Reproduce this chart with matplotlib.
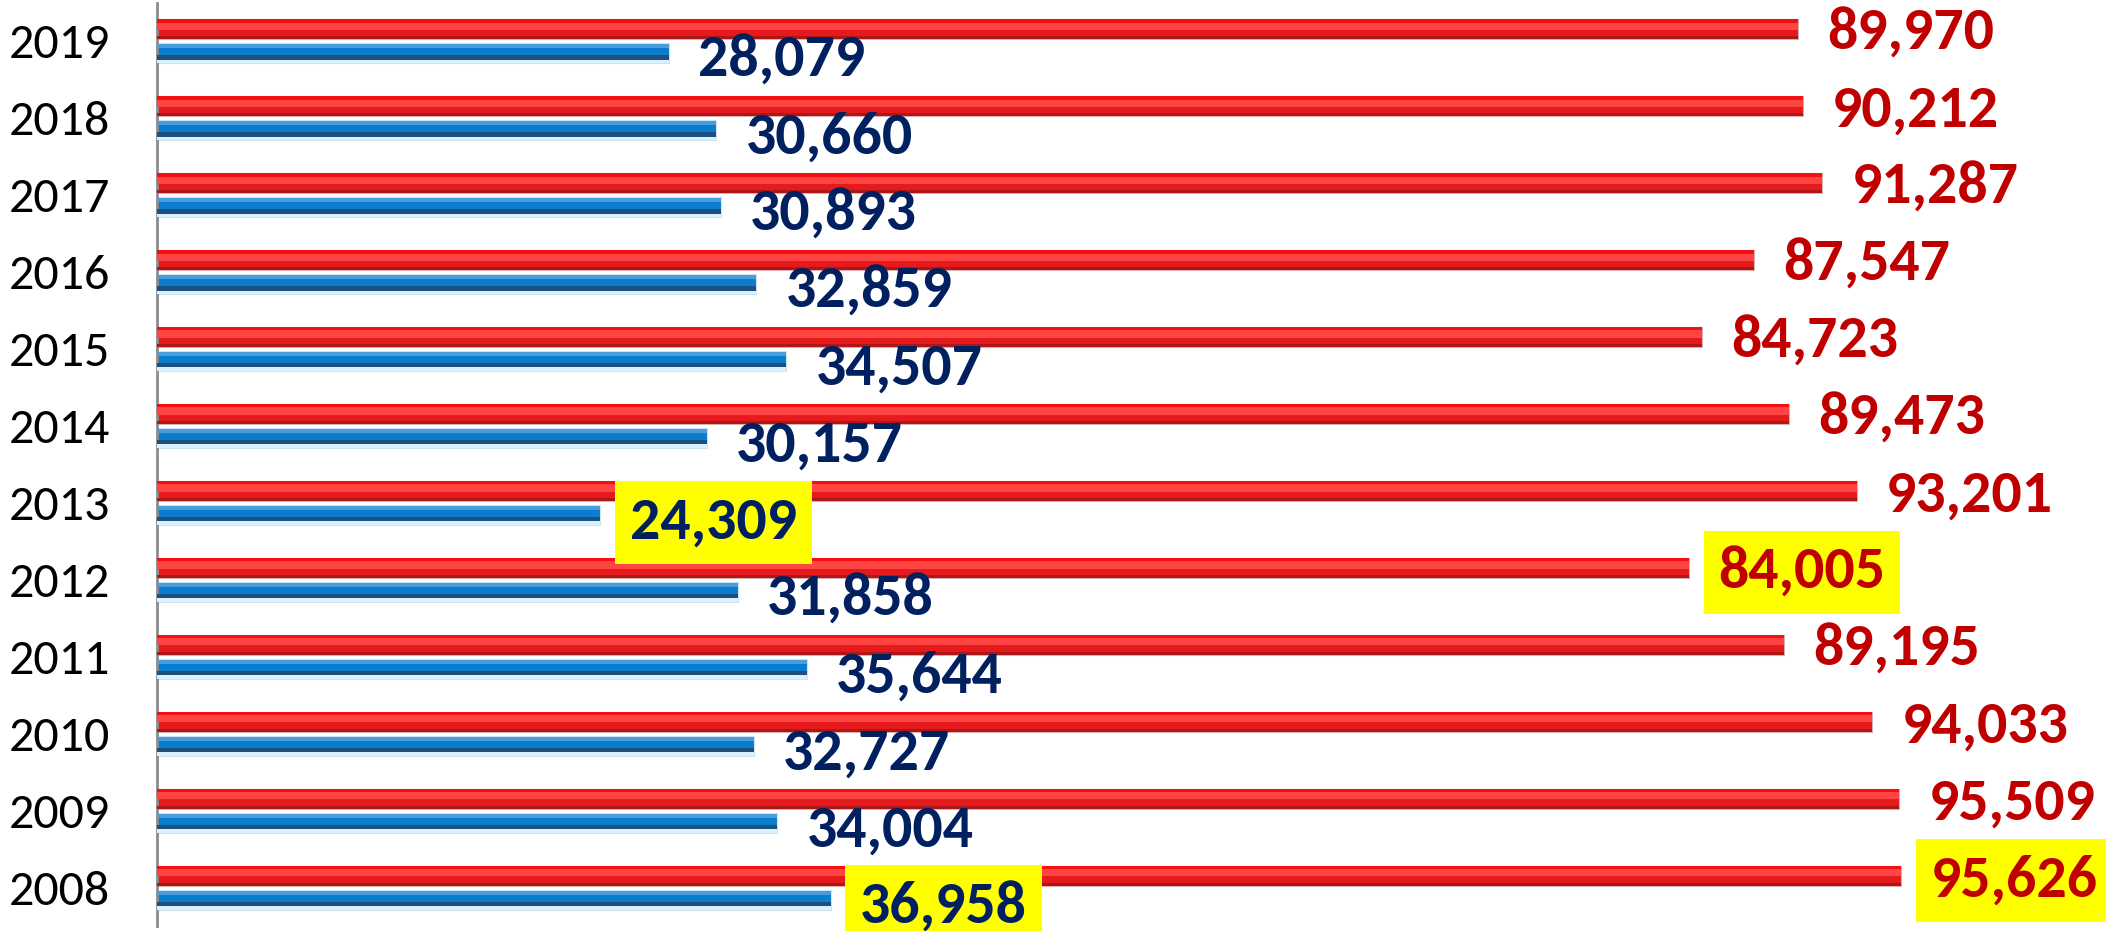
import matplotlib.pyplot as plt
from matplotlib import font_manager

# data
years = ["2008", "2009", "2010", "2011", "2012", "2013",
         "2014", "2015", "2016", "2017", "2018", "2019"]
red_vals = [95626, 95509, 94033, 89195, 84005, 93201,
            89473, 84723, 87547, 91287, 90212, 89970]
blue_vals = [36958, 34004, 32727, 35644, 31858, 24309,
             30157, 34507, 32859, 30893, 30660, 28079]

# pick a Calibri-like font if one is there
names = {f.name for f in font_manager.fontManager.ttflist}
if "Carlito" in names:
    FONT, lab_fs, yr_fs = "Carlito", 43, 36
elif "Liberation Sans Narrow" in names:
    FONT, lab_fs, yr_fs = "Liberation Sans Narrow", 42, 36
else:
    FONT, lab_fs, yr_fs = "DejaVu Sans", 30, 27

fig = plt.figure(figsize=(21.06, 9.31), dpi=100)
ax = fig.add_axes([157 / 2106, 4.6 / 931, 1 - 157 / 2106, 923.4 / 931])

y = list(range(len(years)))
h = 0.26
off = 0.156
y_red = [v + off for v in y]
y_blue = [v - off for v in y]

# red bars with a simple bevel look
ax.barh(y_red, red_vals, height=h, color="#E51A1C", edgecolor="#D9B0B0", linewidth=0.8, zorder=2)
ax.barh([v + h * 0.42 for v in y_red], red_vals, height=h * 0.16, color="#F41012", linewidth=0, zorder=3)
ax.barh([v + h * 0.16 for v in y_red], red_vals, height=h * 0.36, color="#FF4444", linewidth=0, zorder=3)
ax.barh([v - h * 0.42 for v in y_red], red_vals, height=h * 0.16, color="#AD1717", linewidth=0, zorder=3)

# blue bars
ax.barh(y_blue, blue_vals, height=h, color="#0B7DCE", edgecolor="#D0E4F0", linewidth=0.8, zorder=2)
ax.barh([v + h * 0.36 for v in y_blue], blue_vals, height=h * 0.2, color="#4A9DDD", linewidth=0, zorder=3)
ax.barh([v - h * 0.2 for v in y_blue], blue_vals, height=h * 0.22, color="#1F4F7C", linewidth=0, zorder=3)
ax.barh([v - h * 0.4 for v in y_blue], blue_vals, height=h * 0.18, color="#D8F0FF", linewidth=0, zorder=3)

hi_red = [max(red_vals), min(red_vals)]
hi_blue = [max(blue_vals), min(blue_vals)]

for yy, v in zip(y_red, red_vals):
    box = dict(boxstyle="square,pad=0.25", fc="#FFFF00", ec="none") if v in hi_red else None
    ax.annotate(f"{v:,}", (v, yy), xytext=(21, -3), textcoords="offset points",
                va="center", ha="left", fontsize=lab_fs, fontweight="bold",
                color="#C00000", family=FONT, bbox=box, zorder=5, annotation_clip=False)

for yy, v in zip(y_blue, blue_vals):
    box = dict(boxstyle="square,pad=0.25", fc="#FFFF00", ec="none") if v in hi_blue else None
    ax.annotate(f"{v:,}", (v, yy), xytext=(21, -5), textcoords="offset points",
                va="center", ha="left", fontsize=lab_fs, fontweight="bold",
                color="#002060", family=FONT, bbox=box, zorder=5, annotation_clip=False)

ax.set_xlim(0, 106850)
ax.set_ylim(-0.5, len(years) - 0.5)
ax.set_yticks(y)
ax.set_yticklabels(years, fontsize=yr_fs, family=FONT, color="black")
ax.tick_params(axis="y", length=0, pad=34)
ax.set_xticks([])

for s in ["top", "right", "bottom"]:
    ax.spines[s].set_visible(False)
ax.spines["left"].set_color("#8C8C8C")
ax.spines["left"].set_linewidth(2)

plt.savefig("out.png", dpi=100)
plt.close()
